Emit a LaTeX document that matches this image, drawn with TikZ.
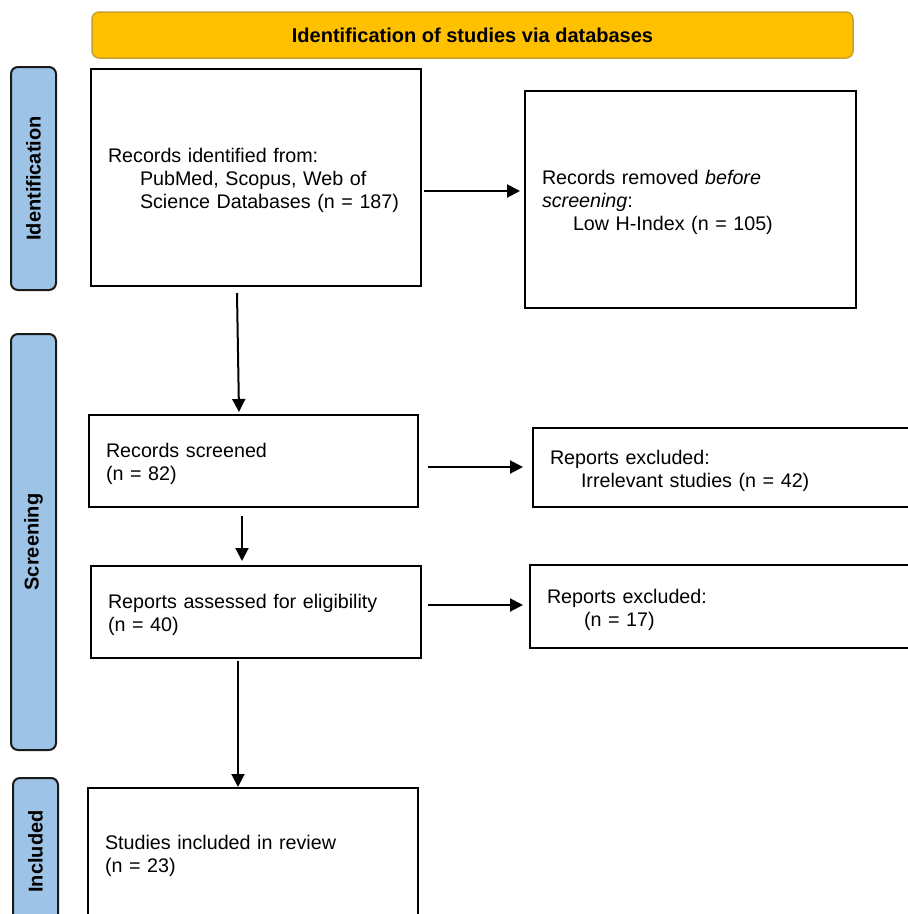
\documentclass[tikz,border=0pt]{standalone}
\usepackage{fontspec}
\setmainfont{Liberation Sans}
\usetikzlibrary{arrows.meta}
\definecolor{bannerfill}{HTML}{FFC000}
\definecolor{bannerdraw}{HTML}{C8A030}
\definecolor{sidefill}{HTML}{9DC3E6}
\definecolor{sidedraw}{HTML}{1A1A1A}
\tikzset{
  x=1pt, y=1pt,
  boxnode/.style={draw=black, line width=2pt, fill=white, align=left,
    inner xsep=17pt, inner ysep=0pt, font=\fontsize{19.7pt}{23pt}\selectfont,
    execute at begin node={\rule{0pt}{20.5pt}}},
  sidebar/.style={draw=sidedraw, line width=2pt, fill=sidefill, rounded corners=7pt,
    rotate=90, minimum height=45pt, inner sep=0pt,
    font=\fontsize{20pt}{22pt}\selectfont\bfseries},
  banner/.style={draw=bannerdraw, line width=1.5pt, fill=bannerfill, rounded corners=7pt,
    minimum width=761pt, minimum height=46pt, inner sep=0pt,
    font=\fontsize{20pt}{23pt}\selectfont\bfseries},
  arr/.style={line width=2pt, -{Triangle[length=13pt,width=13pt]}}
}
\newcommand{\ind}[1]{\hspace*{#1pt}}
\begin{document}
\begin{tikzpicture}
\clip (0,0) rectangle (908,-914);
\fill[white] (0,0) rectangle (908,-914);

% banner
\node[banner] (ban) at (472.5,-35) {Identification of studies via databases};

% side bars
\node[sidebar, minimum width=223pt] (sid) at (33.5,-178.5) {Identification};
\node[sidebar, minimum width=416pt] (scr) at (33.5,-542) {Screening};
\node[sidebar, minimum width=147pt] (inc) at (35.5,-851.5) {Included};

% boxes
\node[boxnode, text width=296pt, minimum height=217pt] (b1) at (256,-177.5)
  {Records identified from:\\\ind{32}PubMed, Scopus, Web of\\\ind{32}Science Databases (n = 187)};
\node[boxnode, text width=297pt, minimum height=217pt] (b2) at (690.5,-199.5)
  {Records removed \textit{before}\\\textit{screening}:\\\ind{31}Low H-Index (n = 105)};
\node[boxnode, text width=295pt, minimum height=92pt] (b3) at (253.5,-461)
  {Records screened\\(n = 82)};
\node[boxnode, text width=363pt, minimum height=79pt] (b4) at (731.5,-467.5)
  {Reports excluded:\\\ind{31}Irrelevant studies (n = 42)};
\node[boxnode, text width=296pt, minimum height=92pt] (b5) at (256,-612)
  {Reports assessed for eligibility\\(n = 40)};
\node[boxnode, text width=366pt, minimum height=83pt] (b6) at (730,-606.5)
  {Reports excluded:\\\ind{37}(n = 17)};
\node[boxnode, text width=296pt, minimum height=129pt] (b7) at (253,-852.5)
  {Studies included in review\\(n = 23)};

% horizontal arrows
\draw[arr, shorten >=4pt] ([xshift=2pt,yshift=-13.5pt]b1.east) -- ([yshift=-13.5pt]b1.east -| b2.west);
\draw[arr, shorten >=9pt] ([xshift=9pt,yshift=-6pt]b3.east) -- ([yshift=-6pt]b3.east -| b4.west);
\draw[arr, shorten >=6pt] ([xshift=6pt,yshift=7pt]b5.east) -- ([yshift=7pt]b5.east -| b6.west);

% vertical arrows
\draw[arr] ([xshift=-19pt,yshift=-6pt]b1.south) -- ([xshift=-14.5pt,yshift=2pt]b3.north);
\draw[arr] ([xshift=-11.5pt,yshift=-8pt]b3.south) -- ([xshift=-14pt,yshift=4pt]b5.north);
\draw[arr] ([xshift=-18pt,yshift=-2pt]b5.south) -- ([xshift=-15pt,yshift=0pt]b7.north);
\end{tikzpicture}
\end{document}
